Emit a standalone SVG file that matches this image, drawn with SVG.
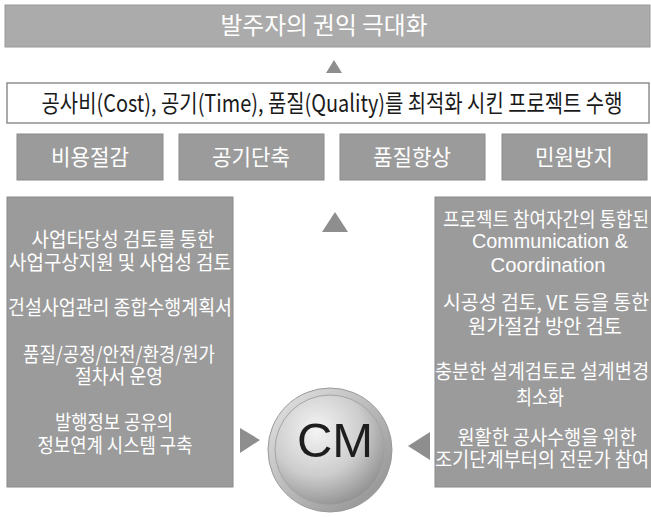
<svg xmlns="http://www.w3.org/2000/svg" width="651" height="517" viewBox="0 0 651 517">
<defs>
<style>
.kr{font-family:"Noto Sans CJK KR","Noto Sans",sans-serif;}
.lat{font-family:"Liberation Sans",Arial,sans-serif;}
.wt{fill:#ffffff;}
.mid{text-anchor:middle;}
.box{fill:#9b9b9b;stroke:#8a8a8a;stroke-width:1;}
.arrow{fill:#8e8e8e;}
</style>
<radialGradient id="disc" cx="0.38" cy="0.32" r="0.75">
<stop offset="0" stop-color="#f4f4f4"/>
<stop offset="0.55" stop-color="#cdcdcd"/>
<stop offset="1" stop-color="#8a8a8a"/>
</radialGradient>
<linearGradient id="ring" x1="0" y1="0" x2="1" y2="1">
<stop offset="0" stop-color="#e6e6e6"/>
<stop offset="1" stop-color="#8c8c8c"/>
</linearGradient>
</defs>
<rect width="651" height="517" fill="#ffffff"/>

<g id="goal">
<rect x="5" y="5" width="645" height="42" fill="#ababab" stroke="#999" stroke-width="1"/>
<text class="kr wt mid" x="324" y="34" font-size="24" textLength="207" lengthAdjust="spacingAndGlyphs">발주자의 권익 극대화</text>
</g>

<g id="project">
<rect x="7" y="83" width="642" height="40" fill="#ffffff" stroke="#8f8f8f" stroke-width="1.5"/>
<text class="kr mid" transform="translate(332,112) scale(0.817,1)" x="0" y="0" font-size="24" fill="#1a1a1a" textLength="711" lengthAdjust="spacingAndGlyphs">공사비(Cost), 공기(Time), 품질(Quality)를 최적화 시킨 프로젝트 수행</text>
</g>

<g id="cost">
<rect class="box" x="17" y="134" width="146" height="46" fill="#929292"/>
<text class="kr wt mid" x="90" y="165" font-size="22" textLength="78" lengthAdjust="spacingAndGlyphs">비용절감</text>
</g>
<g id="time">
<rect class="box" x="179" y="134" width="145" height="46" fill="#929292"/>
<text class="kr wt mid" x="251" y="165" font-size="22" textLength="78" lengthAdjust="spacingAndGlyphs">공기단축</text>
</g>
<g id="quality">
<rect class="box" x="340" y="134" width="145" height="46" fill="#929292"/>
<text class="kr wt mid" x="412" y="165" font-size="22" textLength="78" lengthAdjust="spacingAndGlyphs">품질향상</text>
</g>
<g id="complaint">
<rect class="box" x="502" y="134" width="145" height="46" fill="#929292"/>
<text class="kr wt mid" x="574" y="165" font-size="22" textLength="78" lengthAdjust="spacingAndGlyphs">민원방지</text>
</g>

<g id="left-tasks">
<rect class="box" x="7" y="197" width="226" height="290"/>
<text class="kr wt mid" x="123" y="247" font-size="20" textLength="183" lengthAdjust="spacingAndGlyphs">사업타당성 검토를 통한</text>
<text class="kr wt mid" x="120" y="270" font-size="20" textLength="222" lengthAdjust="spacingAndGlyphs">사업구상지원 및 사업성 검토</text>
<text class="kr wt mid" x="120" y="315" font-size="20" textLength="224" lengthAdjust="spacingAndGlyphs">건설사업관리 종합수행계획서</text>
<text class="kr wt mid" x="119" y="362" font-size="20" textLength="192" lengthAdjust="spacingAndGlyphs">품질/공정/안전/환경/원가</text>
<text class="kr wt mid" x="119" y="384" font-size="20" textLength="88" lengthAdjust="spacingAndGlyphs">절차서 운영</text>
<text class="kr wt mid" x="114" y="430" font-size="20" textLength="118" lengthAdjust="spacingAndGlyphs">발행정보 공유의</text>
<text class="kr wt mid" x="115" y="453" font-size="20" textLength="155" lengthAdjust="spacingAndGlyphs">정보연계 시스템 구축</text>
</g>

<g id="right-tasks">
<rect class="box" x="435" y="197" width="220" height="290" fill="#a2a2a2"/>
<text class="kr wt mid" transform="translate(546,227) scale(0.9,1)" x="0" y="0" font-size="20" textLength="229" lengthAdjust="spacingAndGlyphs">프로젝트 참여자간의 통합된</text>
<text class="lat wt mid" x="550" y="248" font-size="20" textLength="156" lengthAdjust="spacingAndGlyphs">Communication &amp;</text>
<text class="lat wt mid" x="548" y="272" font-size="20" textLength="115" lengthAdjust="spacingAndGlyphs">Coordination</text>
<text class="kr wt mid" transform="translate(546,310) scale(0.92,1)" x="0" y="0" font-size="20" textLength="224" lengthAdjust="spacingAndGlyphs">시공성 검토, VE 등을 통한</text>
<text class="kr wt mid" x="545" y="334" font-size="20" textLength="154" lengthAdjust="spacingAndGlyphs">원가절감 방안 검토</text>
<text class="kr wt mid" transform="translate(542,379) scale(0.86,1)" x="0" y="0" font-size="20" textLength="249" lengthAdjust="spacingAndGlyphs">충분한 설계검토로 설계변경</text>
<text class="kr wt mid" x="540" y="405" font-size="20" textLength="48" lengthAdjust="spacingAndGlyphs">최소화</text>
<text class="kr wt mid" x="547" y="445" font-size="20" textLength="179" lengthAdjust="spacingAndGlyphs">원활한 공사수행을 위한</text>
<text class="kr wt mid" transform="translate(542,467) scale(0.86,1)" x="0" y="0" font-size="20" textLength="249" lengthAdjust="spacingAndGlyphs">조기단계부터의 전문가 참여</text>
</g>

<g id="cm">
<circle cx="330" cy="450" r="62" fill="url(#ring)" stroke="#9a9a9a" stroke-width="1"/>
<circle cx="330" cy="450" r="55" fill="url(#disc)" stroke="#a5a5a5" stroke-width="1"/>
<text class="lat mid" x="335" y="457" font-size="49" fill="#1e1e1e">CM</text>
</g>

<g id="connectors">
<polygon class="arrow" points="334,60 326,73 342,73"/>
<polygon class="arrow" points="335,212 322,232 348,232"/>
<polygon class="arrow" points="240,428 240,453 260,440"/>
<polygon class="arrow" points="430,432 430,460 408,446"/>
</g>
</svg>
